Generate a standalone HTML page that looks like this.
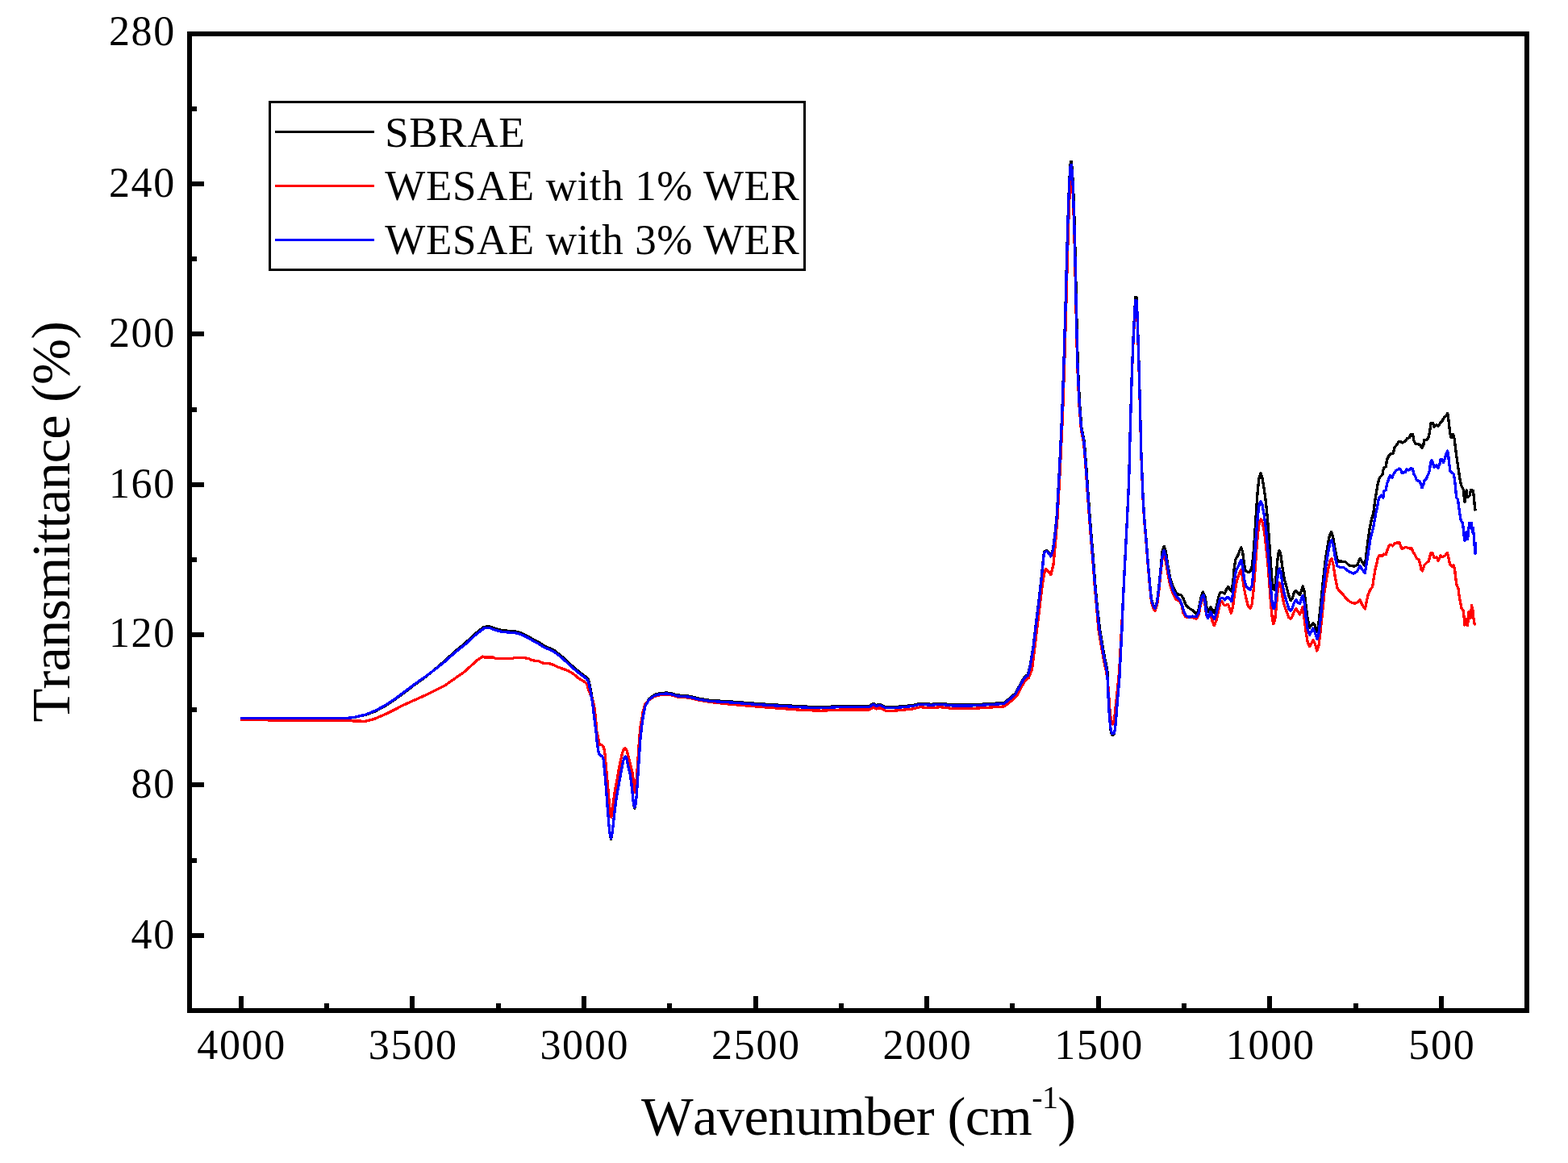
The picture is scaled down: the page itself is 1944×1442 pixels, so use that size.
<!DOCTYPE html>
<html lang="en"><head><meta charset="utf-8"><title>FTIR spectra</title>
<style>html,body{margin:0;padding:0;background:#fff;}body{width:1944px;height:1442px;overflow:hidden;}svg{display:block;}text{font-family:"Liberation Serif",serif;fill:#000;}</style>
</head><body>
<svg width="1944" height="1442" viewBox="0 0 1944 1442">
<rect x="0" y="0" width="1944" height="1442" fill="#fff"/>
<g fill="none" stroke-width="3.3" stroke-linejoin="round" stroke-linecap="butt" shape-rendering="crispEdges">
<path d="M297.8 890.6 L428.1 890.6 L438.0 889.6 L452.8 886.5 L465.2 881.9 L477.5 875.3 L489.9 867.1 L502.2 858.0 L514.6 848.6 L526.9 839.9 L539.3 829.8 L551.6 819.2 L564.0 807.8 L576.3 797.8 L588.6 786.3 L596.5 780.0 L600.0 777.3 L606.8 776.8 L606.8 776.6 L611.7 778.6 L619.4 781.0 L627.2 782.0 L634.0 782.5 L641.7 783.4 L648.5 785.9 L655.3 789.3 L662.1 793.6 L668.9 797.0 L674.8 800.9 L681.6 803.8 L687.4 806.7 L693.2 811.1 L699.0 816.0 L706.1 822.7 L711.7 827.7 L717.2 832.4 L722.8 836.6 L727.2 839.9 L729.4 842.7 L730.8 847.7 L731.9 853.3 L733.1 858.8 L733.9 864.4 L734.9 869.9 L735.7 875.5 L736.4 881.0 L736.9 886.6 L737.7 892.1 L738.3 897.7 L738.9 906.6 L740.5 923.3 L742.2 933.3 L743.9 936.6 L746.6 937.7 L748.3 942.2 L749.4 954.4 L750.9 969.9 L752.2 987.7 L753.5 1005.4 L755.0 1023.2 L756.4 1035.4 L757.5 1040.6 L758.8 1034.3 L760.2 1023.2 L762.0 1006.5 L763.8 992.1 L766.1 978.8 L768.3 966.6 L770.5 954.4 L772.7 943.3 L774.4 938.8 L775.5 938.0 L776.8 939.9 L778.8 949.9 L781.0 958.8 L782.7 969.9 L784.2 984.3 L785.5 996.6 L786.8 1002.3 L788.3 996.6 L789.4 984.3 L790.5 967.7 L791.6 951.0 L792.7 934.4 L793.8 917.7 L795.3 903.3 L797.1 890.0 L799.8 874.7 L804.8 866.4 L811.5 861.4 L818.1 859.8 L826.4 858.9 L833.1 860.1 L839.7 861.9 L849.7 862.6 L856.4 863.6 L866.4 866.1 L880.0 868.4 L905.3 869.9 L950.5 873.3 L995.8 876.0 L1018.4 876.7 L1041.1 875.6 L1077.3 875.6 L1083.0 872.2 L1086.3 874.5 L1090.9 873.3 L1097.7 876.7 L1109.0 876.7 L1131.6 874.5 L1140.7 872.2 L1154.3 873.3 L1165.6 872.2 L1181.4 874.0 L1204.0 874.0 L1222.2 872.9 L1244.8 871.5 L1250.0 867.4 L1258.9 859.7 L1265.5 847.5 L1270.0 839.7 L1274.4 836.4 L1277.1 825.3 L1280.9 803.1 L1284.3 774.3 L1287.6 747.7 L1290.9 718.8 L1293.6 692.2 L1294.4 684.4 L1297.7 682.2 L1300.6 685.5 L1302.8 688.9 L1305.5 681.1 L1308.1 661.1 L1310.3 639.0 L1313.5 581.2 L1316.7 514.1 L1318.9 450.3 L1320.9 383.3 L1322.5 322.6 L1324.0 271.6 L1325.6 226.9 L1327.3 200.8 L1328.5 200.8 L1330.4 226.9 L1332.0 271.6 L1333.3 322.6 L1334.6 383.3 L1336.2 450.3 L1338.4 498.2 L1340.9 530.1 L1344.1 546.0 L1346.7 578.0 L1348.9 609.9 L1351.2 641.2 L1353.5 670.0 L1355.7 696.6 L1357.9 725.5 L1360.1 749.9 L1363.5 780.0 L1365.5 791.7 L1367.4 803.3 L1369.3 814.0 L1371.3 823.7 L1373.2 833.4 L1373.5 848.0 L1374.0 862.5 L1374.8 877.1 L1375.4 888.7 L1376.4 898.4 L1377.4 907.6 L1378.8 911.0 L1380.8 911.0 L1382.2 905.2 L1383.2 896.5 L1384.2 884.9 L1385.1 873.2 L1386.1 861.6 L1387.1 849.9 L1388.1 838.3 L1388.7 823.7 L1389.5 809.1 L1390.2 794.6 L1391.0 780.0 L1392.0 752.1 L1393.7 716.6 L1395.5 681.1 L1397.1 650.1 L1398.6 619.0 L1399.7 593.9 L1401.3 530.1 L1403.2 466.3 L1405.1 418.4 L1407.0 383.3 L1407.5 368.8 L1409.2 368.8 L1409.9 386.5 L1411.5 434.3 L1413.3 498.2 L1414.9 562.0 L1417.0 614.0 L1418.6 641.2 L1420.9 667.8 L1423.1 696.6 L1425.7 725.5 L1427.5 743.2 L1430.1 751.0 L1432.3 753.2 L1434.6 745.4 L1436.8 727.7 L1439.0 705.5 L1441.2 683.0 L1443.2 677.2 L1445.4 684.4 L1448.1 702.4 L1450.8 716.9 L1454.4 727.7 L1458.9 736.7 L1464.3 737.6 L1467.0 742.1 L1470.7 751.1 L1475.2 754.7 L1479.7 757.4 L1483.3 762.0 L1486.0 756.5 L1488.7 742.1 L1491.4 734.0 L1494.1 740.3 L1496.3 754.7 L1498.1 758.3 L1500.9 752.9 L1503.5 756.5 L1505.8 760.1 L1508.5 751.1 L1510.7 740.3 L1512.5 734.9 L1515.7 734.5 L1518.4 735.8 L1520.8 730.4 L1522.6 727.7 L1524.7 730.4 L1526.9 733.1 L1528.7 722.3 L1530.2 704.2 L1532.0 693.4 L1534.7 688.9 L1537.0 682.6 L1538.8 678.6 L1540.6 684.4 L1542.4 698.8 L1544.2 707.9 L1547.3 709.3 L1550.0 708.8 L1552.2 702.4 L1554.0 686.2 L1555.8 661.0 L1557.6 632.1 L1559.4 606.9 L1561.2 591.6 L1563.0 587.0 L1564.8 591.6 L1567.1 605.1 L1569.5 623.1 L1571.6 644.7 L1573.4 668.2 L1575.2 695.2 L1577.0 718.7 L1578.5 730.4 L1579.7 731.3 L1581.5 722.3 L1583.3 700.6 L1584.8 686.2 L1586.1 682.3 L1587.9 688.0 L1590.0 704.2 L1592.4 718.7 L1595.1 727.7 L1597.8 738.5 L1600.1 744.8 L1602.3 742.1 L1604.4 734.9 L1606.8 732.2 L1609.5 735.8 L1611.7 737.6 L1613.5 732.2 L1615.3 726.8 L1617.1 733.1 L1618.9 749.3 L1621.2 767.4 L1623.6 778.2 L1625.7 775.5 L1627.9 772.8 L1630.2 775.5 L1632.6 783.6 L1634.4 776.4 L1636.5 758.3 L1638.7 736.7 L1641.1 713.3 L1643.4 693.4 L1645.9 677.2 L1648.3 664.6 L1650.6 659.5 L1652.8 666.4 L1654.9 679.0 L1657.3 691.6 L1659.1 696.1 L1663.6 696.1 L1668.1 696.7 L1673.0 701.2 L1678.9 702.1 L1682.9 700.5 L1686.0 692.2 L1689.0 696.9 L1692.3 701.6 L1694.7 680.4 L1697.8 656.8 L1701.3 640.3 L1702.6 637.9 L1704.6 621.4 L1706.5 609.7 L1708.4 599.0 L1710.4 592.2 L1713.8 588.8 L1715.4 580.6 L1718.2 578.6 L1719.6 569.9 L1722.0 565.0 L1724.0 562.6 L1727.4 562.1 L1728.8 555.3 L1731.7 551.5 L1734.2 547.6 L1736.6 547.6 L1738.5 549.0 L1742.4 547.1 L1744.4 543.7 L1747.3 542.7 L1749.2 538.3 L1751.7 538.8 L1752.6 545.6 L1755.0 550.5 L1758.0 550.5 L1760.9 551.9 L1762.8 555.3 L1764.8 552.4 L1765.7 545.6 L1769.6 545.1 L1771.6 540.8 L1773.0 532.0 L1774.0 524.8 L1776.4 524.3 L1777.9 529.1 L1780.8 526.7 L1783.2 528.2 L1785.6 524.3 L1788.1 521.8 L1790.5 517.5 L1792.9 515.5 L1794.7 512.6 L1795.8 519.4 L1796.8 529.1 L1797.8 536.9 L1799.2 542.7 L1801.7 538.3 L1803.1 543.7 L1804.1 552.4 L1805.5 563.1 L1807.0 573.8 L1808.4 583.5 L1809.9 593.2 L1811.4 601.0 L1814.3 606.8 L1815.2 616.5 L1816.0 622.8 L1817.2 614.6 L1818.2 607.8 L1819.1 616.5 L1822.0 614.6 L1823.5 607.3 L1826.4 608.3 L1827.4 616.5 L1828.3 627.2 L1829.3 633.5" stroke="#000000"/>
<path d="M297.8 892.6 L428.0 893.6 L452.8 894.3 L462.7 891.9 L477.5 885.7 L502.2 873.3 L526.9 862.2 L551.6 849.9 L576.3 832.6 L591.1 819.0 L598.5 814.1 L600.0 814.9 L610.7 814.9 L614.6 816.3 L635.9 816.3 L637.4 815.3 L649.5 815.5 L656.3 816.8 L659.2 818.7 L668.0 819.7 L672.8 822.1 L680.6 822.6 L685.4 824.1 L691.3 827.0 L700.0 830.0 L703.9 831.4 L708.3 833.9 L712.2 836.6 L716.6 840.5 L721.1 843.3 L725.0 845.5 L727.2 847.7 L728.6 851.1 L729.7 855.5 L731.1 858.8 L733.3 864.4 L735.5 869.9 L736.9 877.7 L738.0 886.6 L738.8 894.3 L739.8 906.6 L742.2 917.7 L743.3 923.3 L746.6 923.9 L748.6 926.6 L750.0 934.4 L751.1 947.7 L752.4 962.1 L753.9 978.8 L755.3 995.4 L756.6 1008.8 L757.7 1013.2 L759.1 1006.5 L760.5 993.2 L762.7 978.8 L765.0 966.6 L767.2 954.4 L769.4 943.3 L771.6 933.3 L773.5 928.8 L775.3 927.7 L777.2 931.1 L779.4 939.9 L781.6 947.7 L783.8 956.6 L785.3 967.7 L786.4 978.8 L786.9 982.1 L788.4 976.6 L789.5 962.1 L790.7 945.5 L791.8 928.8 L792.9 912.2 L794.3 898.9 L796.0 890.0 L797.0 883.2 L799.8 873.2 L804.8 867.8 L811.5 863.4 L818.1 861.8 L826.4 860.9 L833.1 862.1 L839.7 863.9 L849.7 864.6 L856.4 865.6 L866.4 868.1 L880.0 870.4 L905.3 873.2 L950.5 877.1 L995.8 880.5 L1018.4 881.2 L1041.1 880.1 L1077.3 880.1 L1083.0 877.0 L1086.3 879.0 L1090.9 877.8 L1097.7 881.2 L1109.0 881.2 L1131.6 879.0 L1140.7 876.7 L1154.3 877.8 L1165.6 876.7 L1181.4 878.5 L1204.0 878.5 L1222.2 877.4 L1244.8 876.0 L1251.0 871.4 L1260.0 863.7 L1266.5 851.5 L1271.0 843.7 L1275.4 840.4 L1279.6 829.3 L1282.4 807.1 L1285.8 778.3 L1289.1 751.7 L1292.4 724.0 L1295.0 710.0 L1296.6 705.4 L1299.8 708.5 L1302.8 712.7 L1306.0 700.0 L1308.6 672.0 L1311.0 642.0 L1314.2 584.0 L1317.4 517.0 L1319.6 453.0 L1321.6 386.0 L1323.2 326.0 L1324.7 276.0 L1326.3 236.0 L1327.9 215.0 L1330.0 236.0 L1331.5 276.0 L1332.8 326.0 L1334.1 386.0 L1335.7 453.0 L1337.9 501.0 L1340.4 533.0 L1343.6 549.0 L1346.2 581.0 L1348.4 613.0 L1350.7 644.0 L1353.0 673.0 L1355.2 699.6 L1357.4 728.5 L1359.6 752.9 L1361.8 780.0 L1363.8 791.7 L1365.7 803.3 L1367.7 814.0 L1369.6 823.7 L1371.6 833.4 L1373.2 843.1 L1374.4 857.7 L1375.3 872.2 L1376.4 884.9 L1377.7 893.6 L1379.3 898.0 L1381.1 893.6 L1382.3 884.9 L1383.5 873.2 L1384.7 861.6 L1385.9 849.9 L1387.1 838.3 L1388.1 823.7 L1388.9 809.1 L1389.7 794.6 L1390.5 780.0 L1392.0 753.1 L1393.7 717.6 L1395.5 682.1 L1397.1 651.1 L1398.6 620.0 L1399.7 594.9 L1401.3 531.1 L1403.2 467.3 L1405.1 421.4 L1407.0 388.3 L1408.3 378.0 L1409.9 391.5 L1411.5 437.3 L1413.3 501.2 L1414.9 565.0 L1417.0 617.0 L1418.6 644.2 L1420.9 670.8 L1423.1 699.6 L1425.7 728.5 L1427.5 746.2 L1430.1 755.0 L1431.9 757.5 L1434.6 750.0 L1436.8 733.0 L1439.0 711.0 L1441.0 693.0 L1442.7 688.0 L1445.5 697.0 L1448.2 713.3 L1450.9 725.9 L1454.5 736.7 L1458.1 743.0 L1462.6 745.7 L1465.3 751.1 L1467.0 760.1 L1469.8 764.7 L1473.4 765.6 L1478.8 765.6 L1483.3 767.4 L1486.0 762.8 L1488.3 751.1 L1490.5 742.1 L1491.9 740.3 L1493.7 747.5 L1495.5 761.9 L1497.3 766.5 L1499.5 763.8 L1500.9 761.9 L1502.7 769.2 L1505.3 775.5 L1508.2 769.2 L1510.7 756.5 L1513.0 747.5 L1514.8 745.7 L1517.5 750.2 L1520.2 750.2 L1522.6 749.3 L1524.4 754.7 L1526.5 760.1 L1528.7 751.1 L1530.5 736.7 L1532.9 722.3 L1535.6 713.3 L1538.3 706.9 L1540.1 713.3 L1542.4 729.5 L1544.6 740.3 L1547.3 751.1 L1550.0 754.4 L1552.2 749.3 L1554.0 733.1 L1555.8 709.7 L1557.6 684.4 L1559.4 662.8 L1561.2 648.4 L1563.5 643.8 L1565.3 648.4 L1567.7 661.0 L1569.8 679.0 L1572.0 700.6 L1573.8 724.1 L1575.6 749.3 L1577.4 767.4 L1578.8 773.7 L1580.6 769.2 L1582.4 751.1 L1584.2 731.3 L1586.1 722.3 L1587.9 727.7 L1590.0 740.3 L1592.4 751.1 L1595.1 758.3 L1597.8 765.6 L1600.1 767.4 L1602.3 763.8 L1604.4 758.3 L1606.8 754.7 L1609.1 758.3 L1611.3 761.9 L1613.1 758.3 L1614.9 752.9 L1616.7 763.8 L1618.9 781.8 L1621.2 796.2 L1623.6 801.6 L1625.7 798.0 L1627.9 793.5 L1630.2 798.0 L1632.9 807.0 L1635.1 799.8 L1637.4 780.0 L1639.8 756.5 L1641.9 734.9 L1644.6 716.9 L1647.4 702.4 L1649.5 694.3 L1651.0 692.5 L1653.1 700.6 L1655.5 716.9 L1658.2 729.5 L1661.8 734.0 L1665.4 737.6 L1669.9 743.0 L1674.4 746.6 L1680.1 748.3 L1683.6 746.4 L1686.0 744.1 L1689.0 750.0 L1692.4 755.0 L1694.4 744.9 L1696.3 737.1 L1698.7 731.3 L1701.7 727.4 L1703.1 717.7 L1704.6 708.0 L1706.5 700.2 L1708.4 691.5 L1710.4 688.5 L1713.8 689.5 L1715.7 687.1 L1718.2 687.6 L1720.1 681.7 L1722.5 675.9 L1724.5 675.4 L1726.9 676.9 L1729.3 673.5 L1732.7 673.0 L1735.1 673.0 L1736.6 676.9 L1738.1 680.3 L1740.5 679.8 L1742.9 678.3 L1746.3 679.8 L1750.2 680.0 L1752.1 684.7 L1754.6 688.5 L1756.5 692.4 L1759.4 694.4 L1760.9 700.2 L1761.8 706.0 L1763.3 708.0 L1764.8 704.1 L1765.7 700.7 L1768.6 697.8 L1771.6 695.3 L1772.5 690.5 L1774.0 685.6 L1776.4 686.1 L1777.9 691.5 L1781.3 691.0 L1783.2 695.3 L1785.1 691.5 L1786.1 688.5 L1788.1 690.5 L1791.5 689.0 L1794.4 685.6 L1795.8 690.5 L1797.3 699.2 L1799.7 702.1 L1802.1 700.7 L1803.6 706.0 L1804.6 715.7 L1806.0 725.4 L1808.0 729.3 L1808.9 737.1 L1810.4 745.8 L1811.8 753.6 L1814.3 757.5 L1815.2 766.2 L1815.7 775.0 L1817.7 767.2 L1819.1 775.9 L1820.6 768.2 L1821.1 758.4 L1822.5 759.4 L1823.5 766.2 L1824.5 750.2 L1825.9 756.5 L1826.9 766.2 L1827.9 773.0 L1829.3 775.0" stroke="#ff0000"/>
<path d="M297.8 890.6 L428.1 890.6 L438.0 889.6 L452.8 886.2 L465.2 881.2 L477.5 874.6 L489.9 866.4 L502.2 857.3 L514.6 847.9 L526.9 839.3 L539.3 830.1 L551.6 820.2 L564.0 809.1 L576.3 799.3 L588.6 788.1 L597.5 781.0 L600.6 778.6 L606.8 778.6 L606.8 778.4 L611.7 780.4 L619.4 782.8 L627.2 783.8 L634.0 784.3 L641.7 785.2 L648.5 787.7 L655.3 791.1 L662.1 795.4 L668.9 798.8 L674.8 802.7 L681.6 805.6 L687.4 808.5 L693.2 812.9 L699.0 817.8 L705.5 823.9 L711.1 828.9 L716.6 833.6 L722.2 837.8 L726.6 841.1 L728.8 843.9 L730.2 847.7 L731.3 853.3 L732.5 858.8 L733.3 864.4 L734.3 869.9 L735.1 875.5 L735.8 881.0 L736.3 886.6 L737.1 892.1 L737.7 897.7 L738.9 906.6 L740.5 923.3 L742.2 933.3 L743.9 936.6 L746.6 937.7 L748.3 942.2 L749.4 954.4 L750.9 969.9 L752.2 987.7 L753.5 1005.4 L755.0 1023.2 L756.4 1035.4 L757.5 1039.3 L758.8 1034.3 L760.2 1023.2 L762.0 1006.5 L763.8 992.1 L766.1 978.8 L768.3 966.6 L770.5 954.4 L772.7 943.3 L774.4 938.8 L775.5 938.0 L776.8 939.9 L778.8 949.9 L781.0 958.8 L782.7 969.9 L784.2 984.3 L785.5 996.6 L786.8 1001.0 L788.3 996.6 L789.4 984.3 L790.5 967.7 L791.6 951.0 L792.7 934.4 L793.8 917.7 L795.3 903.3 L797.1 890.0 L799.8 875.7 L804.8 867.4 L811.5 862.4 L818.1 860.8 L826.4 859.9 L833.1 861.1 L839.7 862.9 L849.7 863.6 L856.4 864.6 L866.4 867.1 L880.0 869.4 L905.3 870.9 L950.5 874.3 L995.8 877.0 L1018.4 877.7 L1041.1 876.6 L1077.3 876.6 L1083.0 873.2 L1086.3 875.5 L1090.9 874.3 L1097.7 877.7 L1109.0 877.7 L1131.6 875.5 L1140.7 873.2 L1154.3 874.3 L1165.6 873.2 L1181.4 875.0 L1204.0 875.0 L1222.2 873.9 L1244.8 872.5 L1250.0 868.4 L1258.9 860.7 L1265.5 848.5 L1270.0 840.7 L1274.4 837.4 L1277.1 826.3 L1280.9 804.1 L1284.3 775.3 L1287.6 748.7 L1290.9 719.8 L1293.6 693.2 L1294.4 685.4 L1297.7 683.2 L1300.6 686.5 L1302.8 689.9 L1305.5 682.1 L1308.1 662.1 L1310.3 640.0 L1313.5 582.2 L1316.7 515.1 L1318.9 451.3 L1320.9 384.3 L1322.5 323.6 L1324.0 272.6 L1325.6 227.9 L1327.3 204.6 L1328.5 204.6 L1330.1 227.9 L1331.7 272.6 L1333.0 323.6 L1334.3 384.3 L1335.9 451.3 L1338.1 499.2 L1340.6 531.1 L1343.8 547.0 L1346.4 579.0 L1348.6 610.9 L1350.9 642.2 L1353.2 671.0 L1355.4 697.6 L1357.6 726.5 L1359.8 750.9 L1362.8 780.0 L1364.8 791.7 L1366.7 803.3 L1368.6 814.0 L1370.6 823.7 L1372.5 833.4 L1373.5 848.0 L1374.0 862.5 L1374.8 877.1 L1375.4 888.7 L1376.4 898.4 L1377.4 906.2 L1378.8 909.6 L1380.8 909.6 L1382.2 905.2 L1383.2 896.5 L1384.2 884.9 L1385.1 873.2 L1386.1 861.6 L1387.1 849.9 L1388.1 838.3 L1388.7 823.7 L1389.5 809.1 L1390.2 794.6 L1391.0 780.0 L1392.0 753.1 L1393.7 717.6 L1395.5 682.1 L1397.1 651.1 L1398.6 620.0 L1399.7 594.9 L1401.3 531.1 L1403.2 467.3 L1405.1 419.4 L1407.0 384.3 L1407.5 372.5 L1409.2 372.5 L1409.9 387.5 L1411.5 435.3 L1413.3 499.2 L1414.9 563.0 L1417.0 615.0 L1418.6 642.2 L1420.9 668.8 L1423.1 697.6 L1425.7 726.5 L1427.5 744.2 L1430.1 752.0 L1432.3 754.2 L1434.6 746.4 L1436.8 728.7 L1439.0 706.5 L1441.2 688.8 L1443.2 682.6 L1445.4 689.8 L1448.1 706.0 L1450.8 720.5 L1454.4 732.2 L1458.9 740.3 L1462.5 743.0 L1465.2 749.3 L1467.9 758.3 L1470.7 763.8 L1474.3 765.2 L1478.8 764.1 L1483.3 764.7 L1486.0 760.1 L1488.3 747.5 L1490.5 739.4 L1491.9 737.6 L1493.7 743.9 L1495.5 760.1 L1497.3 766.5 L1499.1 763.8 L1500.9 758.3 L1503.1 763.8 L1505.5 767.4 L1508.2 760.1 L1510.7 749.3 L1513.0 742.1 L1515.7 741.2 L1518.4 743.9 L1520.8 741.2 L1522.6 740.3 L1524.7 743.0 L1526.9 745.7 L1528.7 734.9 L1530.5 718.7 L1532.3 707.9 L1534.7 703.3 L1537.0 697.9 L1538.8 694.3 L1540.6 702.4 L1542.4 716.9 L1544.6 725.9 L1547.3 729.5 L1550.0 731.3 L1552.2 725.9 L1554.0 709.7 L1555.8 686.2 L1557.6 661.0 L1559.4 639.3 L1561.2 625.8 L1563.0 621.3 L1564.8 624.9 L1567.1 637.5 L1569.5 655.6 L1571.6 677.2 L1573.4 700.6 L1575.2 725.9 L1577.0 745.7 L1578.5 753.8 L1579.7 754.7 L1581.5 743.9 L1583.3 722.3 L1584.8 708.8 L1586.1 705.1 L1587.9 709.7 L1590.0 724.1 L1592.4 736.7 L1595.1 745.7 L1597.8 754.7 L1600.1 757.4 L1602.3 753.8 L1604.4 747.5 L1606.8 743.9 L1609.5 747.5 L1611.7 748.4 L1613.5 742.1 L1615.3 738.5 L1617.1 747.5 L1618.9 763.8 L1621.2 780.0 L1623.6 787.2 L1625.7 783.6 L1627.9 779.1 L1630.2 783.6 L1632.9 792.6 L1634.7 787.2 L1636.9 769.2 L1639.2 745.7 L1641.6 722.3 L1643.7 702.4 L1646.5 686.2 L1648.8 673.6 L1651.0 670.0 L1653.1 677.2 L1655.5 691.6 L1657.8 701.5 L1660.9 703.3 L1665.4 703.3 L1669.0 706.1 L1672.6 708.8 L1677.7 711.1 L1682.4 708.7 L1686.0 701.6 L1689.0 706.4 L1692.3 710.6 L1695.4 692.2 L1698.9 668.6 L1702.5 654.5 L1705.5 637.9 L1708.0 626.2 L1709.4 617.5 L1712.3 614.1 L1714.8 617.5 L1716.0 608.7 L1718.2 607.8 L1719.6 600.0 L1722.0 593.2 L1723.5 589.8 L1725.9 592.2 L1728.3 586.9 L1730.8 583.5 L1734.7 581.1 L1736.6 582.5 L1738.1 586.4 L1742.4 585.4 L1743.9 582.0 L1746.8 583.0 L1749.2 580.6 L1751.7 581.6 L1752.6 587.4 L1755.0 591.3 L1756.5 595.6 L1759.9 596.6 L1761.8 601.0 L1763.0 604.9 L1764.8 601.0 L1765.7 596.1 L1768.6 593.2 L1770.6 588.3 L1772.5 583.5 L1773.5 573.8 L1775.0 570.9 L1776.4 573.8 L1777.9 579.6 L1780.8 576.7 L1783.0 580.6 L1785.1 574.8 L1786.1 569.4 L1788.1 569.9 L1789.5 573.8 L1791.5 568.0 L1792.9 563.1 L1794.7 559.2 L1795.8 566.0 L1796.8 575.7 L1798.0 584.5 L1799.7 585.9 L1802.1 587.4 L1803.6 595.1 L1804.6 604.9 L1805.5 616.5 L1807.5 619.4 L1808.3 626.2 L1809.4 634.0 L1810.4 640.0 L1811.4 645.8 L1813.3 648.3 L1814.3 655.5 L1815.2 665.2 L1815.9 670.6 L1817.2 664.3 L1818.2 659.4 L1819.6 668.2 L1821.6 648.3 L1824.5 648.3 L1825.4 659.4 L1826.4 654.6 L1827.4 666.2 L1828.3 678.8 L1829.0 686.6 L1829.8 672.0" stroke="#0000ff"/>
</g>
<g fill="none" stroke="#000" stroke-width="6.0" shape-rendering="crispEdges">
<rect x="235.25" y="42.0" width="1657.85" height="1211.0"/>
</g>
<g fill="none" stroke="#000" stroke-width="6.0" shape-rendering="crispEdges">
<line x1="235.25" y1="1159.75" x2="253.25" y2="1159.75"/>
<line x1="235.25" y1="1066.58" x2="244.25" y2="1066.58"/>
<line x1="235.25" y1="973.40" x2="253.25" y2="973.40"/>
<line x1="235.25" y1="880.23" x2="244.25" y2="880.23"/>
<line x1="235.25" y1="787.05" x2="253.25" y2="787.05"/>
<line x1="235.25" y1="693.88" x2="244.25" y2="693.88"/>
<line x1="235.25" y1="600.70" x2="253.25" y2="600.70"/>
<line x1="235.25" y1="507.53" x2="244.25" y2="507.53"/>
<line x1="235.25" y1="414.35" x2="253.25" y2="414.35"/>
<line x1="235.25" y1="321.18" x2="244.25" y2="321.18"/>
<line x1="235.25" y1="228.00" x2="253.25" y2="228.00"/>
<line x1="235.25" y1="134.82" x2="244.25" y2="134.82"/>
<line x1="1787.00" y1="1253.00" x2="1787.00" y2="1234.70"/>
<line x1="1680.70" y1="1253.00" x2="1680.70" y2="1243.70"/>
<line x1="1574.39" y1="1253.00" x2="1574.39" y2="1234.70"/>
<line x1="1468.09" y1="1253.00" x2="1468.09" y2="1243.70"/>
<line x1="1361.79" y1="1253.00" x2="1361.79" y2="1234.70"/>
<line x1="1255.48" y1="1253.00" x2="1255.48" y2="1243.70"/>
<line x1="1149.18" y1="1253.00" x2="1149.18" y2="1234.70"/>
<line x1="1042.88" y1="1253.00" x2="1042.88" y2="1243.70"/>
<line x1="936.57" y1="1253.00" x2="936.57" y2="1234.70"/>
<line x1="830.27" y1="1253.00" x2="830.27" y2="1243.70"/>
<line x1="723.96" y1="1253.00" x2="723.96" y2="1234.70"/>
<line x1="617.66" y1="1253.00" x2="617.66" y2="1243.70"/>
<line x1="511.36" y1="1253.00" x2="511.36" y2="1234.70"/>
<line x1="405.05" y1="1253.00" x2="405.05" y2="1243.70"/>
<line x1="298.75" y1="1253.00" x2="298.75" y2="1234.70"/>
</g>
<g font-size="52.0" letter-spacing="1.7">
<text x="218.00" y="1175.75" text-anchor="end">40</text>
<text x="218.00" y="989.20" text-anchor="end">80</text>
<text x="218.00" y="802.35" text-anchor="end">120</text>
<text x="218.00" y="617.10" text-anchor="end">160</text>
<text x="218.00" y="429.85" text-anchor="end">200</text>
<text x="218.00" y="243.50" text-anchor="end">240</text>
<text x="218.00" y="56.35" text-anchor="end">280</text>
<text x="1787.85" y="1312.60" text-anchor="middle">500</text>
<text x="1575.24" y="1312.60" text-anchor="middle">1000</text>
<text x="1362.64" y="1312.60" text-anchor="middle">1500</text>
<text x="1150.03" y="1312.60" text-anchor="middle">2000</text>
<text x="937.42" y="1312.60" text-anchor="middle">2500</text>
<text x="724.81" y="1312.60" text-anchor="middle">3000</text>
<text x="512.21" y="1312.60" text-anchor="middle">3500</text>
<text x="299.60" y="1312.60" text-anchor="middle">4000</text>
</g>
<text x="795" y="1407" font-size="68.5" letter-spacing="-0.6" style="font-kerning:none">Wavenumber (cm<tspan font-size="40" dy="-33.5">-1</tspan><tspan dy="33.5">)</tspan></text>
<text transform="translate(86.0 895.5) rotate(-90)" font-size="68.5" letter-spacing="-0.88" style="font-kerning:none">Transmittance (%)</text>
<rect x="334.75" y="126.6" width="662.75" height="207.9" fill="#fff" stroke="#000" stroke-width="3" shape-rendering="crispEdges"/>
<line x1="341.25" y1="163.75" x2="463.75" y2="163.75" stroke="#000000" stroke-width="3" shape-rendering="crispEdges"/>
<text x="477.3" y="181.8" font-size="53" letter-spacing="0.6">SBRAE</text>
<line x1="341.25" y1="230.25" x2="463.75" y2="230.25" stroke="#ff0000" stroke-width="3" shape-rendering="crispEdges"/>
<text x="477.3" y="248.4" font-size="53" letter-spacing="0.6">WESAE with 1% WER</text>
<line x1="341.25" y1="297.5" x2="463.75" y2="297.5" stroke="#0000ff" stroke-width="3" shape-rendering="crispEdges"/>
<text x="477.3" y="314.6" font-size="53" letter-spacing="0.6">WESAE with 3% WER</text>
</svg>
</body></html>
